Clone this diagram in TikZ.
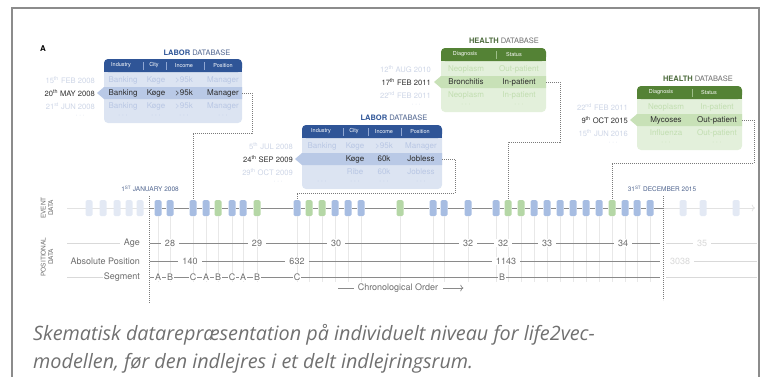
\documentclass[tikz,border=0pt]{standalone}
\usepackage{fontspec}
\setmainfont{TeX Gyre Heros}
\setsansfont{TeX Gyre Heros}
\newfontfamily\capfont{Open Sans}
\usetikzlibrary{arrows.meta}

\definecolor{labhead}{HTML}{2F5597}
\definecolor{labtitle}{HTML}{50658F}
\definecolor{labbody}{HTML}{DCE4F2}
\definecolor{labband}{HTML}{B9C9E6}
\definecolor{labfade}{HTML}{B9C7E4}
\definecolor{labsep}{HTML}{8FA6D2}
\definecolor{healhead}{HTML}{548235}
\definecolor{healtitle}{HTML}{4D6B3D}
\definecolor{healbody}{HTML}{E3F0DB}
\definecolor{healband}{HTML}{C8E1B7}
\definecolor{healfade}{HTML}{C2DEB1}
\definecolor{healsep}{HTML}{9DBE88}
\definecolor{datefade}{HTML}{CDD5E6}
\definecolor{darktxt}{HTML}{2E2E2E}
\definecolor{evblue}{HTML}{A7BDE2}
\definecolor{evgreen}{HTML}{B5D7A6}
\definecolor{evfade}{HTML}{E3E9F4}
\definecolor{linegray}{HTML}{8A8A8A}
\definecolor{fadeline}{HTML}{E2E2E2}
\definecolor{posgray}{HTML}{6E6E6E}
\definecolor{posfade}{HTML}{D9D9D9}
\definecolor{dotgray}{HTML}{7A7A7A}
\definecolor{capgray}{HTML}{707070}
\definecolor{framegray}{HTML}{8C8C8C}

\newcommand{\rdots}{·\kern1.5pt·\kern1.5pt·}

\begin{document}
\begin{tikzpicture}[x=1pt,y=-1pt,
    cell/.style={font=\sffamily\fontsize{8}{9}\selectfont,inner sep=0},
    hdr/.style={font=\sffamily\fontsize{5.5}{6}\selectfont,text=white,inner sep=0},
    dbtitle/.style={font=\sffamily\fontsize{7.5}{8}\selectfont,inner sep=0},
    datelbl/.style={font=\sffamily\fontsize{7.6}{8}\selectfont,anchor=east,inner sep=0},
    evbox/.style={minimum width=7pt,minimum height=16pt,inner sep=0,rounded corners=1.5pt},
    evline/.style={draw=linegray,line width=0.8pt},
    tick/.style={draw=black!9,line width=0.5pt},
    posline/.style={draw=linegray,line width=0.7pt},
    poslbl/.style={font=\sffamily\fontsize{9}{10}\selectfont,text=posgray,fill=white,inner xsep=4pt,inner ysep=1pt},
    seglbl/.style={font=\sffamily\fontsize{9}{10}\selectfont,text=posgray,fill=white,inner xsep=1.2pt,inner ysep=1pt},
    rowname/.style={font=\sffamily\fontsize{9}{10}\selectfont,text=posgray,anchor=east,inner sep=0},
    sidelbl/.style={font=\sffamily\fontsize{6.5}{7.5}\selectfont,text=posgray,align=center,rotate=90,inner sep=0},
    datetop/.style={font=\sffamily\fontsize{6.5}{7}\selectfont,text=labtitle,inner sep=0},
    dotconn/.style={draw=dotgray,line width=0.9pt,dash pattern=on 0.8pt off 1.2pt},
    capt/.style={font=\capfont\itshape\fontsize{19.8}{28}\selectfont,text=capgray,anchor=base west,inner sep=0}]
\useasboundingbox (0,0) rectangle (768,376);
\draw[framegray,line width=1.6pt] (12,380) -- (12,8) -- (759,8) -- (759,380);
\node[font=\sffamily\bfseries\fontsize{8}{8}\selectfont,inner sep=0] (lblA) at (43,49) {A};

% labor database, 2008
\node[dbtitle] (l1t) at (197,53) {\textcolor{labhead}{\textbf{LABOR}} \textcolor{labtitle}{DATABASE}};
\fill[labbody,rounded corners=4pt] (104,59) rectangle (242,123);
\fill[labhead,rounded corners=4pt] (104,59) rectangle (242,72);
\fill[labhead] (104,66) rectangle (242,72);
\fill[labband] (97,93) -- (104,87) -- (242,87) -- (242,99) -- (104,99) -- cycle;
\coordinate (l1out) at (242,93);
\foreach \x in {143,166,204} \draw[labsep,line width=0.4pt] (\x,62) -- (\x,70);
\foreach \x/\t [count=\k] in {121/Industry,154/City,184/Income,223/Position}
  \node[hdr] (l1h\k) at (\x,65.5) {\t};
\foreach \y/\c/\a/\b/\e/\d [count=\r] in {80/labfade/Banking/Køge/>95k/Manager,
    93/darktxt/Banking/Køge/>95k/Manager,106/labfade/Banking/Køge/>95k/Manager}
  \foreach \x/\t [count=\k] in {123/\a,156/\b,184/\e,223/\d}
    \node[cell,text=\c] (l1c\r\k) at (\x,\y) {\t};
\foreach \x [count=\k] in {123,156,184,223} \node[cell,text=labfade] (l1d\k) at (\x,116) {\rdots};
\foreach \y/\c/\t [count=\r] in {80/datefade/15\textsuperscript{th} FEB 2008,
    93/darktxt/20\textsuperscript{th} MAY 2008,106/datefade/21\textsuperscript{st} JUN 2008,116/datefade/\rdots\kern10pt}
  \node[datelbl,text=\c] (l1date\r) at (95,\y) {\t};

% labor database, 2009
\node[dbtitle] (l2t) at (394,118) {\textcolor{labhead}{\textbf{LABOR}} \textcolor{labtitle}{DATABASE}};
\fill[labbody,rounded corners=4pt] (302,125) rectangle (442,189);
\fill[labhead,rounded corners=4pt] (302,125) rectangle (442,138);
\fill[labhead] (302,132) rectangle (442,138);
\fill[labband] (295,159) -- (302,153) -- (442,153) -- (442,165) -- (302,165) -- cycle;
\coordinate (l2out) at (442,159);
\foreach \x in {343,368,401} \draw[labsep,line width=0.4pt] (\x,128) -- (\x,136);
\foreach \x/\t [count=\k] in {321/Industry,354/City,384/Income,420/Position}
  \node[hdr] (l2h\k) at (\x,131.5) {\t};
\foreach \y/\c/\a/\b/\e/\d [count=\r] in {146/labfade/Banking/Køge/>95k/Manager,
    159/darktxt//Køge/60k/Jobless,172/labfade//Ribe/60k/Jobless}
  \foreach \x/\t [count=\k] in {322/\a,355/\b,384/\e,421/\d}
    \node[cell,text=\c] (l2c\r\k) at (\x,\y) {\t};
\foreach \x [count=\k] in {322,355,384,421} \node[cell,text=labfade] (l2d\k) at (\x,182) {\rdots};
\foreach \y/\c/\t [count=\r] in {146/datefade/5\textsuperscript{th} JUL 2008,
    159/darktxt/24\textsuperscript{th} SEP 2009,172/datefade/29\textsuperscript{th} OCT 2009,182/datefade/\rdots\kern10pt}
  \node[datelbl,text=\c] (l2date\r) at (293,\y) {\t};

% health database, 2011
\node[dbtitle] (h1t) at (504,41) {\textcolor{healtitle}{\textbf{HEALTH}} \textcolor{posgray}{DATABASE}};
\fill[healbody,rounded corners=4pt] (441,48) rectangle (546,112);
\fill[healhead,rounded corners=4pt] (441,48) rectangle (546,61);
\fill[healhead] (441,55) rectangle (546,61);
\fill[healband] (434,82) -- (441,76) -- (546,76) -- (546,88) -- (441,88) -- cycle;
\coordinate (h1out) at (546,82);
\draw[healsep,line width=0.4pt] (496,51) -- (496,59);
\foreach \x/\t [count=\k] in {465/Diagnosis,514/Status}
  \node[hdr] (h1h\k) at (\x,54.5) {\t};
\foreach \y/\c/\a/\b [count=\r] in {69/healfade/Neoplasm/Out-patient,
    82/darktxt/Bronchitis/In-patient,95/healfade/Neoplasm/In-patient}
  \foreach \x/\t [count=\k] in {466/\a,519/\b}
    \node[cell,text=\c] (h1c\r\k) at (\x,\y) {\t};
\foreach \x [count=\k] in {466,519} \node[cell,text=healfade] (h1d\k) at (\x,105) {\rdots};
\foreach \y/\c/\t [count=\r] in {69/datefade/12\textsuperscript{th} AUG 2010,
    82/darktxt/17\textsuperscript{th} FEB 2011,95/datefade/22\textsuperscript{nd} FEB 2011,105/datefade/\rdots\kern10pt}
  \node[datelbl,text=\c] (h1date\r) at (431,\y) {\t};

% health database, 2015
\node[dbtitle] (h2t) at (698,79) {\textcolor{healtitle}{\textbf{HEALTH}} \textcolor{posgray}{DATABASE}};
\fill[healbody,rounded corners=4pt] (637,86) rectangle (742,150);
\fill[healhead,rounded corners=4pt] (637,86) rectangle (742,99);
\fill[healhead] (637,93) rectangle (742,99);
\fill[healband] (630,120) -- (637,114) -- (742,114) -- (742,126) -- (637,126) -- cycle;
\coordinate (h2out) at (742,120);
\draw[healsep,line width=0.4pt] (692,89) -- (692,97);
\foreach \x/\t [count=\k] in {661/Diagnosis,709/Status}
  \node[hdr] (h2h\k) at (\x,92.5) {\t};
\foreach \y/\c/\a/\b [count=\r] in {107/healfade/Neoplasm/In-patient,
    120/darktxt/Mycoses/Out-patient,133/healfade/Influenza/Out-patient}
  \foreach \x/\t [count=\k] in {666/\a,717/\b}
    \node[cell,text=\c] (h2c\r\k) at (\x,\y) {\t};
\foreach \x [count=\k] in {666,717} \node[cell,text=healfade] (h2d\k) at (\x,143) {\rdots};
\foreach \y/\c/\t [count=\r] in {107/datefade/22\textsuperscript{nd} FEB 2011,
    120/darktxt/9\textsuperscript{th} OCT 2015,133/datefade/15\textsuperscript{th} JUN 2016,143/datefade/\rdots\kern10pt}
  \node[datelbl,text=\c] (h2date\r) at (628,\y) {\t};

% event data
\coordinate (prestart) at (67,208);
\coordinate (jan) at (149,208);
\coordinate (dec) at (663,208);
\coordinate (postend) at (755,208);
\draw[fadeline,line width=0.8pt] (prestart) -- (jan);
\draw[fadeline,line width=0.8pt,->] (dec) -- (postend);
\foreach \x [count=\i] in {89,103,117,129,140} \node[evbox,fill=evfade] (pre\i) at (\x,208) {};
\foreach \x [count=\i] in {683,703,736} \node[evbox,fill=evfade] (post\i) at (\x,208) {};
\foreach \x/\c [count=\i] in {158/evblue,170/evblue,193/evblue,206/evblue,218/evgreen,232/evblue,
    243/evblue,257/evgreen,297/evblue,309/evgreen,322/evgreen,335/evblue,348/evblue,361/evblue,
    400/evgreen,433/evblue,444/evblue,468/evblue,496/evblue,508/evgreen,521/evgreen,534/evblue,
    547/evblue,560/evblue,573/evblue,586/evblue,599/evblue,612/evgreen,625/evblue,637/evblue,650/evblue}
  \node[evbox,fill=\c] (ev\i) at (\x,208) {};
\foreach \i [evaluate=\i as \j using int(\i+1)] in {1,...,30} \draw[evline] (ev\i) -- (ev\j);
\draw[evline] (jan) -- (ev1);
\draw[evline] (ev31) -- (dec);
\foreach \i in {1,...,31} \draw[tick] (ev\i.south) -- ++(0,66);

% positional data
\node[rowname] (agelbl) at (140,243) {Age};
\node[rowname] (abslbl) at (140,261) {Absolute Position};
\node[rowname] (seglbl) at (140,277) {Segment};
\draw[posfade,line width=0.7pt] (67,243) -- (120,243);
\draw[posfade,line width=0.7pt] (67,277) -- (103,277);
\foreach \y in {243,261,277} {
  \draw[posline] (150,\y) -- (660,\y);
  \draw[posfade,line width=0.7pt] (666,\y) -- (757,\y);
}
\foreach \x/\t [count=\i] in {170/28,257/29,336/30,468/32,503/32,547/33,623/34}
  \node[poslbl] (age\i) at (\x,243) {\t};
\node[poslbl,text=posfade] (age8) at (702,243) {35};
\foreach \x/\t [count=\i] in {190/140,297/632,506/1143}
  \node[poslbl] (abs\i) at (\x,261) {\t};
\node[poslbl,text=posfade] (abs4) at (680,261) {3038};
\foreach \x/\t [count=\i] in {158/A,170/B,193/C,206/A,218/B,232/C,243/A,257/B,297/C,502/B}
  \node[seglbl] (seg\i) at (\x,277) {\t};

% date limits
\coordinate (jantop) at (149,196);
\coordinate (janbot) at (149,303);
\coordinate (dectop) at (663,196);
\coordinate (decbot) at (663,300);
\draw[dotconn] (jantop) -- (janbot);
\draw[dotconn] (dectop) -- (decbot);
\node[datetop] (janlbl) at (150,189) {1\textsuperscript{ST} JANUARY 2008};
\node[datetop] (declbl) at (662,189) {31\textsuperscript{ST} DECEMBER 2015};
\node[sidelbl] (evlbl) at (47,208) {EVENT\\DATA};
\node[sidelbl] (poslbl) at (47,257) {POSITIONAL\\DATA};

% links from records to events
\draw[dotconn] (l1out) -| (252,133) -| (ev3.north);
\draw[dotconn] (l2out) -| (455,193) -| (ev9.north);
\draw[dotconn] (h1out) -| (560,142) -| (ev20.north);
\draw[dotconn] (h2out) -| (754,163) -| (ev28.north);

% time axis
\node[font=\sffamily\fontsize{9}{10}\selectfont,text=posgray,inner sep=0] (chron) at (398,288) {Chronological Order};
\draw[linegray,line width=0.7pt] ([xshift=-4pt]chron.west) -- ++(-16,0);
\draw[linegray,line width=0.7pt,->] ([xshift=5pt]chron.east) -- ++(20,0);

% caption
\node[capt] (cap1) at (33,340) {Skematisk datarepræsentation på individuelt niveau for life2vec-};
\node[capt] (cap2) at ([yshift=-28pt]cap1.base west) {modellen, før den indlejres i et delt indlejringsrum.};
\end{tikzpicture}
\end{document}
